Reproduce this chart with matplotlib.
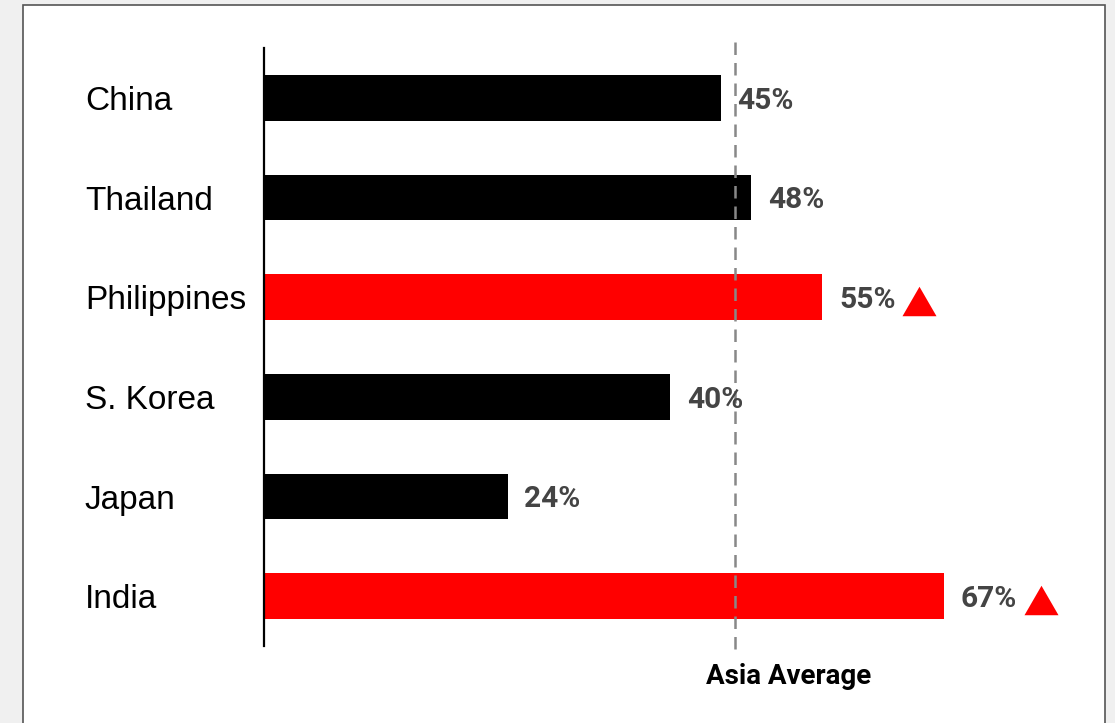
import matplotlib.pyplot as plt
import matplotlib.patches as mpatches
from matplotlib.transforms import offset_copy

# share of respondents by country
countries = ['China', 'Thailand', 'Philippines', 'S. Korea', 'Japan', 'India']
values = [45, 48, 55, 40, 24, 67]
above_avg = [False, False, True, False, False, True]
asia_avg = 46.4

RED = '#ff0000'
fig = plt.figure(figsize=(11.15, 7.23), dpi=100)
fig.patch.set_facecolor('#f0f0f0')

# white card behind the chart
card = mpatches.Rectangle((23 / 1115, -0.05), (1105 - 23) / 1115, 1.05 - 5 / 723,
                          transform=fig.transFigure, facecolor='white',
                          edgecolor='#555555', linewidth=1.2, zorder=-10)
fig.add_artist(card)

ax = fig.add_axes([264 / 1115, 1 - 646 / 723, 812 / 1115, 598 / 723])
ax.set_facecolor('none')
ax.set_zorder(1)

y = list(range(len(countries)))
colors = [RED if a else 'black' for a in above_avg]
ax.barh(y, values, height=0.46, color=colors)

ax.set_xlim(0, 80)
ax.set_ylim(5.5, -0.5)

for s in ['top', 'right', 'bottom']:
    ax.spines[s].set_visible(False)
ax.spines['left'].set_linewidth(1.6)
ax.set_xticks([])
ax.set_yticks(y)
ax.set_yticklabels(countries, fontsize=24, family='Liberation Sans')
ax.tick_params(axis='y', length=0, pad=129)
for lab in ax.get_yticklabels():
    lab.set_ha('left')

# average line
ax.axvline(asia_avg, ymin=-0.005, ymax=1.01, color='#888888', linewidth=1.8,
           linestyle=(0, (5, 3.2)), clip_on=False, zorder=1)
ax.annotate('Asia Average', xy=(asia_avg, 5.5), xytext=(-21, -22),
            textcoords='offset points', ha='left', va='center',
            fontsize=20, fontweight='bold', family='Roboto',
            annotation_clip=False)

# flat equilateral triangle for the "above average" flag
tri = [(-1, -0.866), (1, -0.866), (0, 0.866), (-1, -0.866)]

# value labels and up-markers
for yi, v, a in zip(y, values, above_avg):
    ax.annotate(f'{v}%', xy=(v, yi), xytext=(12, -2), textcoords='offset points',
                ha='left', va='center', fontsize=21.5, fontweight='bold',
                family='Roboto', color='#444444')
    if a:
        tr = offset_copy(ax.transData, fig=fig, x=70, y=-2.5, units='points')
        ax.plot(v, yi, marker=tri, markersize=24.5, color=RED, transform=tr,
                clip_on=False, markeredgewidth=0)

fig.savefig('out.png', dpi=100)
